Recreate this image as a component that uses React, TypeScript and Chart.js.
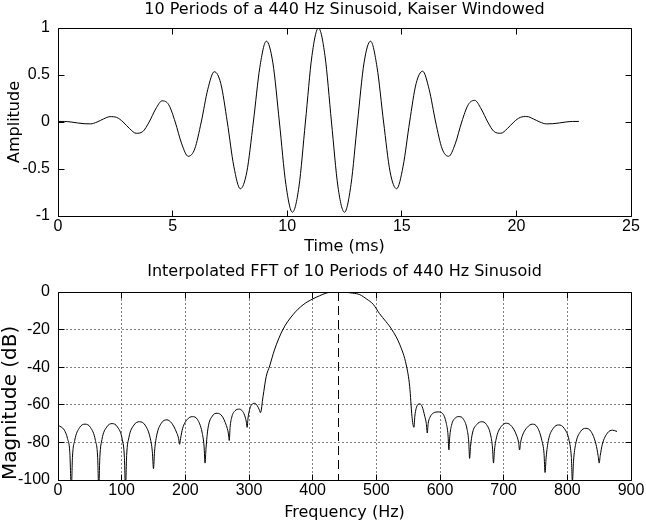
import React, { useEffect, useRef } from 'react';
import { Chart, registerables } from 'chart.js';

Chart.register(...registerables);

// ---------- Top plot: Kaiser-windowed 440 Hz sinusoid ----------
const timeMs = [
  0, 0.284, 0.568, 0.852, 1.136, 1.420, 1.705, 1.989, 2.273, 2.557,
  2.841, 3.125, 3.409, 3.693, 3.977, 4.261, 4.545, 4.830, 5.114, 5.398,
  5.682, 5.966, 6.250, 6.534, 6.818, 7.102, 7.386, 7.670, 7.955, 8.239,
  8.523, 8.807, 9.091, 9.375, 9.659, 9.943, 10.227, 10.511, 10.795, 11.080,
  11.364, 11.648, 11.932, 12.216, 12.500, 12.784, 13.068, 13.352, 13.636, 13.920,
  14.205, 14.489, 14.773, 15.057, 15.341, 15.625, 15.909, 16.193, 16.477, 16.761,
  17.045, 17.330, 17.614, 17.898, 18.182, 18.466, 18.750, 19.034, 19.318, 19.602,
  19.886, 20.170, 20.455, 20.739, 21.023, 21.307, 21.591, 21.875, 22.159, 22.443,
  22.727,
];
const amplitude = [
  0.006, 0.0057, 0, -0.010, -0.018, -0.020, 0, 0.033, 0.057, 0.049,
  0, -0.071, -0.12, -0.103, 0, 0.138, 0.225, 0.184, 0, -0.233,
  -0.365, -0.286, 0, 0.346, 0.535, 0.410, 0, -0.470, -0.71, -0.530,
  0, 0.583, 0.86, 0.629, 0, -0.665, -0.96, -0.691, 0, 0.705,
  1.0, 0.705, 0, -0.691, -0.96, -0.665, 0, 0.629, 0.86, 0.583,
  0, -0.530, -0.71, -0.470, 0, 0.410, 0.54, 0.346, 0, -0.286,
  -0.365, -0.233, 0, 0.184, 0.23, 0.138, 0, -0.103, -0.12, -0.071,
  0, 0.049, 0.058, 0.033, 0, -0.020, -0.018, -0.010, 0, 0.0057,
  0.006,
];
const timeTicks = [0, 5, 10, 15, 20, 25];
const ampTicks = [-1, -0.5, 0, 0.5, 1];

// ---------- Bottom plot: interpolated FFT magnitude ----------
const freqHz = [
  0, 5, 10, 15, 18.5, 21,
  22.7, 26.2, 33.9, 42.5, 51.1, 58.8, 62.3, 64,
  65.7, 69, 76.6, 85, 93.4, 101, 104.3, 106,
  107.8, 111.3, 119.2, 128, 136.8, 144.7, 148.2, 150,
  151.6, 154.9, 162.3, 171, 178.7, 186, 189.5, 191,
  192.5, 195.8, 203, 211, 219, 226.2, 229.4, 231,
  232.5, 235.6, 242.4, 250, 257.6, 264.4, 267.5, 269,
  270.3, 273, 278, 285, 290, 294, 296, 297,
  298.5, 301, 304, 309, 313, 316, 318,
  322, 327, 332.5, 340, 353, 369, 385, 400, 411, 421, 430, 440,
  452, 463, 474, 485, 495, 505, 515, 524, 537, 547, 552.4, 556, 559,
  560.5, 562.5, 565, 568, 572, 576, 578.5, 580,
  581.4, 584, 590, 597, 604, 610, 612.6, 614,
  615.3, 618, 624, 630, 636.5, 642.5, 645.2, 646.5,
  648, 651, 657.7, 665.5, 673, 679.5, 682.5, 684,
  685.6, 689, 696.3, 704.5, 712.7, 720, 723.4, 725,
  726.6, 729.8, 737, 745, 753, 760, 763.4, 765,
  766.7, 770.2, 777.9, 786.5, 795, 802.8, 806.3, 808,
  809.7, 813, 820.6, 829, 837.4, 845, 848.3, 850,
  851.7, 855, 863, 871, 878,
];
const magDb = [
  -71, -71.8, -73.5, -78, -85, -105,
  -88, -79, -72.1, -70.3, -72.1, -79, -88, -105,
  -88, -78.5, -71.8, -70, -71.8, -78.5, -88, -105,
  -87, -77.5, -70.8, -69, -70.8, -77.5, -85, -94,
  -85, -76.5, -69.8, -68, -69.8, -74.5, -78, -81,
  -78, -72.5, -67.8, -66.3, -67.8, -74.5, -82, -91,
  -83, -72.5, -66, -64.5, -66, -71, -75, -79,
  -72, -66.5, -63.2, -62.3, -63.5, -66.5, -69.5, -72,
  -67, -62.5, -60, -59.2, -60.5, -62.5, -64.2,
  -55.7, -45, -39.3, -30.8, -20.1, -12.1, -6.8, -3.7, -2, -0.6, -0.1, 0,
  -0.2, -0.6, -1.4, -3.8, -6.5, -11.5, -15.7, -19.8, -28.1, -38.8, -50.3, -66.3, -72,
  -66, -62, -60, -59.5, -61, -66, -70, -75,
  -70, -66.8, -64.3, -63.8, -64.6, -70, -76, -84,
  -77, -71, -67, -66.3, -67.5, -73, -80, -88.5,
  -82, -75, -70.5, -69, -70.5, -76, -83, -91,
  -84, -77, -71.5, -69.8, -71.5, -76, -80, -84,
  -80, -76, -72, -70.3, -72, -79, -86, -96,
  -88, -79, -72.5, -70.7, -72.5, -79, -88, -101,
  -90, -81, -74.3, -72.5, -74.3, -81, -87, -91,
  -87, -81, -75, -73.5, -74.2,
];
const markerFreq = [440, 440];
const markerDb = [0, -100];
const freqTicks = [0, 100, 200, 300, 400, 500, 600, 700, 800, 900];
const dbTicks = [-100, -80, -60, -40, -20, 0];

const TEXT_FONT = { family: "'DejaVu Sans', sans-serif", size: 16, weight: 'normal' as const };
const BIG_TEXT_FONT = { family: "'DejaVu Sans', sans-serif", size: 20, weight: 'normal' as const };
const TICK_FONT = { family: "'Liberation Sans', Arial, sans-serif", size: 16, weight: 'normal' as const };

function align(p: number) {
  return Math.round(p - 0.5) + 0.5;
}

const matlabAxes = {
  id: 'matlabAxes',
  beforeDatasetsDraw(chart: any, _args: any, opts: any) {
    if (!opts || !opts.grid) return;
    const { ctx, chartArea, scales } = chart;
    const L = align(chartArea.left), R = align(chartArea.right);
    const T = align(chartArea.top), B = align(chartArea.bottom);
    ctx.save();
    ctx.strokeStyle = '#000';
    ctx.lineWidth = 1;
    ctx.setLineDash([1, 3]);
    ctx.beginPath();
    scales.x.ticks.forEach((t: any) => {
      const px = align(scales.x.getPixelForValue(t.value));
      if (px <= L + 1 || px >= R - 1) return;
      ctx.moveTo(px, B);
      ctx.lineTo(px, T);
    });
    scales.y.ticks.forEach((t: any) => {
      const py = align(scales.y.getPixelForValue(t.value));
      if (py <= T + 1 || py >= B - 1) return;
      ctx.moveTo(L, py);
      ctx.lineTo(R, py);
    });
    ctx.stroke();
    ctx.restore();
  },
  afterDatasetsDraw(chart: any, _args: any, opts: any) {
    const { ctx, chartArea, scales } = chart;
    const L = align(chartArea.left), R = align(chartArea.right);
    const T = align(chartArea.top), B = align(chartArea.bottom);
    const tl = 6;
    ctx.save();
    ctx.strokeStyle = '#000';
    ctx.lineWidth = 1;
    if (opts && opts.marker) {
      const mx = align(scales.x.getPixelForValue(opts.marker.x[0]));
      const my0 = scales.y.getPixelForValue(opts.marker.y[0]);
      const my1 = scales.y.getPixelForValue(opts.marker.y[1]);
      ctx.setLineDash([9, 5]);
      ctx.beginPath();
      ctx.moveTo(mx, my0);
      ctx.lineTo(mx, my1);
      ctx.stroke();
    }
    ctx.setLineDash([]);
    ctx.beginPath();
    ctx.rect(L, T, R - L, B - T);
    scales.x.ticks.forEach((t: any) => {
      const px = align(scales.x.getPixelForValue(t.value));
      ctx.moveTo(px, B);
      ctx.lineTo(px, B - tl);
      ctx.moveTo(px, T);
      ctx.lineTo(px, T + tl);
    });
    scales.y.ticks.forEach((t: any) => {
      const py = align(scales.y.getPixelForValue(t.value));
      ctx.moveTo(L, py);
      ctx.lineTo(L + tl, py);
      ctx.moveTo(R, py);
      ctx.lineTo(R - tl, py);
    });
    ctx.stroke();
    ctx.restore();
  },
};

function makeOptions(cfg: {
  title: string;
  titleHeight: number;
  titlePadTop: number;
  xTitle: string;
  xTitlePadBottom: number;
  yTitle: string;
  yTitlePadTop: number;
  yTitleFont: any;
  yTitleAlign: 'start' | 'center';
  xMin: number; xMax: number; xTicks: number[];
  yMin: number; yMax: number; yTicks: number[];
  xHeight: number;
  grid: boolean;
  marker?: { x: number[]; y: number[] };
}): any {
  return {
    animation: false,
    responsive: false,
    maintainAspectRatio: false,
    events: [],
    layout: { padding: { left: 0, right: 15, top: 0, bottom: 0 } },
    plugins: {
      legend: { display: false },
      tooltip: { enabled: false },
      title: { display: false },
      matlabAxes: { grid: cfg.grid, marker: cfg.marker },
    },
    scales: {
      xt: {
        type: 'linear',
        position: 'top',
        min: cfg.xMin,
        max: cfg.xMax,
        afterFit: (s: any) => { s.height = cfg.titleHeight; },
        grid: { display: false, drawTicks: false },
        border: { display: false },
        ticks: { display: false },
        title: {
          display: true,
          text: cfg.title,
          color: '#000',
          font: TEXT_FONT,
          padding: { top: cfg.titlePadTop, bottom: 0 },
        },
      },
      x: {
        type: 'linear',
        position: 'bottom',
        min: cfg.xMin,
        max: cfg.xMax,
        afterBuildTicks: (s: any) => { s.ticks = cfg.xTicks.map((v) => ({ value: v })); },
        afterFit: (s: any) => { s.height = cfg.xHeight; },
        grid: { display: false, drawTicks: false },
        border: { display: false },
        ticks: {
          color: '#000',
          font: TICK_FONT,
          padding: 1,
          maxRotation: 0,
          autoSkip: false,
          callback: (v: any) => String(v),
        },
        title: {
          display: true,
          text: cfg.xTitle,
          color: '#000',
          font: TEXT_FONT,
          padding: { top: 0, bottom: cfg.xTitlePadBottom },
        },
      },
      y: {
        type: 'linear',
        position: 'left',
        min: cfg.yMin,
        max: cfg.yMax,
        afterBuildTicks: (s: any) => { s.ticks = cfg.yTicks.map((v) => ({ value: v })); },
        afterFit: (s: any) => { s.width = 58; },
        grid: { display: false, drawTicks: false },
        border: { display: false },
        ticks: {
          color: '#000',
          font: TICK_FONT,
          padding: 8,
          autoSkip: false,
          callback: (v: any) => String(v),
        },
        title: {
          display: true,
          text: cfg.yTitle,
          color: '#000',
          font: cfg.yTitleFont,
          align: cfg.yTitleAlign,
          padding: { top: cfg.yTitlePadTop, bottom: 0 },
        },
      },
    },
  };
}

export default function App() {
  const topRef = useRef<HTMLCanvasElement | null>(null);
  const botRef = useRef<HTMLCanvasElement | null>(null);

  useEffect(() => {
    const charts: Chart[] = [];
    if (topRef.current) {
      charts.push(
        new Chart(topRef.current, {
          type: 'line',
          data: {
            datasets: [
              {
                data: timeMs.map((t, i) => ({ x: t, y: amplitude[i] })),
                borderColor: '#000',
                borderWidth: 1,
                pointRadius: 0,
                cubicInterpolationMode: 'monotone',
                fill: false,
              },
            ],
          },
          options: makeOptions({
            title: '10 Periods of a 440 Hz Sinusoid, Kaiser Windowed',
            titleHeight: 28,
            titlePadTop: 0.6,
            xTitle: 'Time (ms)',
            xTitlePadBottom: 3.4,
            yTitle: 'Amplitude',
            yTitlePadTop: 5.4,
            yTitleFont: TEXT_FONT,
            yTitleAlign: 'center',
            xMin: 0, xMax: 25, xTicks: timeTicks,
            yMin: -1, yMax: 1, yTicks: ampTicks,
            xHeight: 44,
            grid: false,
          }),
          plugins: [matlabAxes],
        } as any)
      );
    }
    if (botRef.current) {
      charts.push(
        new Chart(botRef.current, {
          type: 'line',
          data: {
            datasets: [
              {
                data: freqHz.map((f, i) => ({ x: f, y: magDb[i] })),
                borderColor: '#000',
                borderWidth: 1,
                pointRadius: 0,
                cubicInterpolationMode: 'monotone',
                fill: false,
              },
            ],
          },
          options: makeOptions({
            title: 'Interpolated FFT of 10 Periods of 440 Hz Sinusoid',
            titleHeight: 32,
            titlePadTop: 2.6,
            xTitle: 'Frequency (Hz)',
            xTitlePadBottom: 0.4,
            yTitle: 'Magnitude (dB)',
            yTitlePadTop: -1.5,
            yTitleFont: BIG_TEXT_FONT,
            yTitleAlign: 'start',
            xMin: 0, xMax: 900, xTicks: freqTicks,
            yMin: -100, yMax: 0, yTicks: dbTicks,
            xHeight: 43,
            grid: true,
            marker: { x: markerFreq, y: markerDb },
          }),
          plugins: [matlabAxes],
        } as any)
      );
    }
    return () => charts.forEach((c) => c.destroy());
  }, []);

  return (
    <div style={{ position: 'absolute', left: 0, top: 0, width: 646, height: 523, background: '#fff' }}>
      <canvas ref={topRef} width={646} height={260} style={{ position: 'absolute', left: 0, top: 0, display: 'block' }} />
      <canvas ref={botRef} width={646} height={263} style={{ position: 'absolute', left: 0, top: 260, display: 'block' }} />
    </div>
  );
}
